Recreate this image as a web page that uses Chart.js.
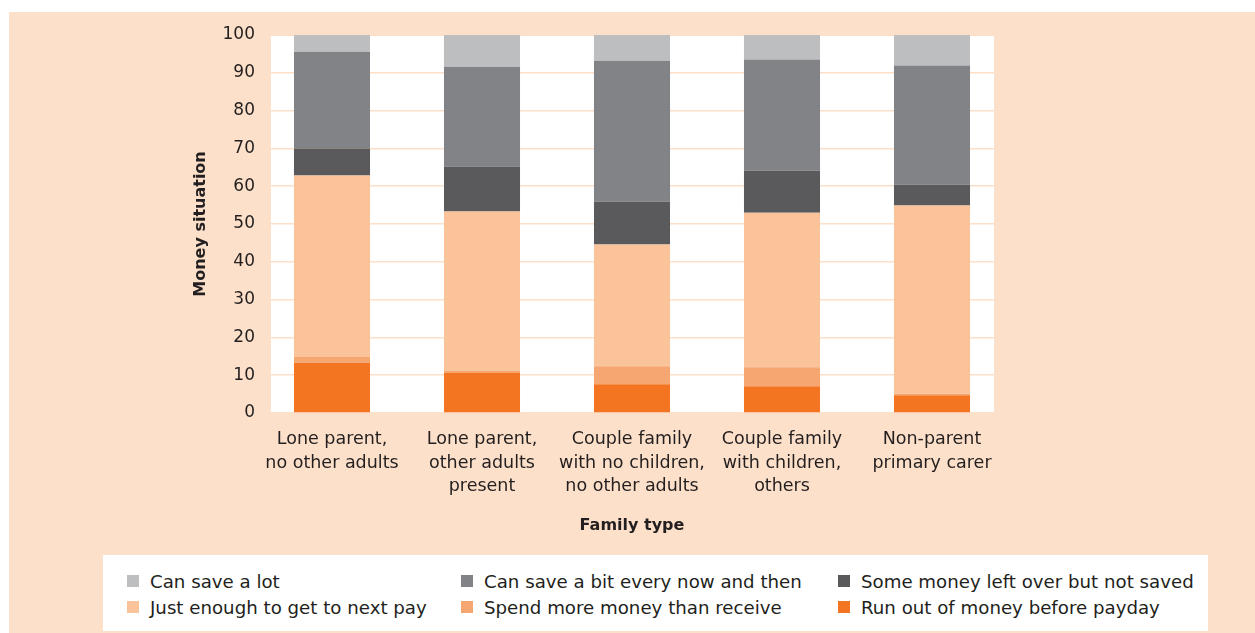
<!DOCTYPE html>
<html>
<head>
<meta charset="utf-8">
<script src="https://cdn.jsdelivr.net/npm/chart.js@4/dist/chart.umd.min.js"></script>
<style>
  body { margin: 0; background: #fff; width: 1255px; height: 633px; overflow: hidden; position: relative; font-family: "DejaVu Sans", sans-serif; }
  #panel { position: absolute; left: 9px; top: 12px; right: 0; bottom: 0; background: #fde0c9; }
  #chart { position: absolute; left: 0; top: 0; }
  #legend { position: absolute; left: 103px; top: 555px; width: 1105px; height: 76px; background: #fff;
            box-sizing: border-box; padding: 13px 0 0 24px; display: grid;
            grid-template-columns: 334px 377px auto; grid-auto-rows: 26px; }
  .item { display: flex; align-items: center; font-size: 18.2px; color: #231f20; white-space: nowrap; }
  .box { width: 12px; height: 12px; margin-right: 11px; flex: none; }
</style>
</head>
<body>
<div id="panel"></div>
<canvas id="chart" width="1255" height="550"></canvas>
<div id="legend"></div>
<script>
const categories = [
  ['Lone parent,', 'no other adults'],
  ['Lone parent,', 'other adults', 'present'],
  ['Couple family', 'with no children,', 'no other adults'],
  ['Couple family', 'with children,', 'others'],
  ['Non-parent', 'primary carer']
];
const yTicks = [0, 10, 20, 30, 40, 50, 60, 70, 80, 90, 100];

// stacked from the bottom up
const runOut    = [13.3, 10.6, 7.6, 7.1, 4.7];
const spendMore = [1.5, 0.5, 4.8, 5.0, 0.4];
const justEnough = [48.0, 42.2, 32.2, 40.9, 49.8];
const leftOver  = [7.2, 11.9, 11.3, 11.1, 5.5];
const saveBit   = [25.6, 26.4, 37.3, 29.4, 31.5];
const saveLot   = [4.4, 8.4, 6.8, 6.5, 8.1];

const peach = '#fde0c9';
const ink = '#231f20';

Chart.defaults.font.family = '"DejaVu Sans", sans-serif';
Chart.defaults.color = ink;

const plotBg = {
  id: 'plotBg',
  beforeDraw(chart) {
    const a = chart.chartArea, c = chart.ctx;
    c.save();
    c.fillStyle = '#fff';
    c.fillRect(a.left + 14, a.top + 1, a.right - a.left - 27, a.bottom - a.top - 1);
    c.restore();
  }
};

const chart = new Chart(document.getElementById('chart').getContext('2d'), {
  type: 'bar',
  data: {
    labels: categories,
    datasets: [
      { label: 'Run out of money before payday', data: runOut, backgroundColor: '#f37521' },
      { label: 'Spend more money than receive', data: spendMore, backgroundColor: '#f6a671' },
      { label: 'Just enough to get to next pay', data: justEnough, backgroundColor: '#fbc399' },
      { label: 'Some money left over but not saved', data: leftOver, backgroundColor: '#5a5a5c' },
      { label: 'Can save a bit every now and then', data: saveBit, backgroundColor: '#828386' },
      { label: 'Can save a lot', data: saveLot, backgroundColor: '#bdbec0' }
    ]
  },
  options: {
    responsive: false,
    animation: false,
    layout: { padding: { left: 0, right: 248, top: 35, bottom: 0 } },
    datasets: { bar: { categoryPercentage: 0.507, barPercentage: 1, borderWidth: 0 } },
    plugins: { legend: { display: false }, tooltip: { enabled: false } },
    scales: {
      x: {
        stacked: true,
        grid: { display: false },
        border: { display: false },
        ticks: { padding: 6, maxRotation: 0, autoSkip: false, font: { size: 17.5, lineHeight: 1.37 }, color: ink },
        title: { display: true, text: 'Family type', font: { size: 16, weight: 'bold' }, color: ink, padding: { top: 0, bottom: 15 } },
        afterFit(scale) { scale.height = 137; }
      },
      y: {
        stacked: true,
        min: 0, max: 100,
        afterBuildTicks(scale) { scale.ticks = yTicks.map(v => ({ value: v })); },
        grid: { color: peach, lineWidth: 1.5, drawTicks: false },
        border: { display: false },
        ticks: { padding: 2, font: { size: 17 }, color: ink },
        title: { display: true, text: 'Money situation', font: { size: 16, weight: 'bold' }, color: ink, padding: { top: 191, bottom: 0 } },
        afterFit(scale) { scale.width = 257; }
      }
    }
  },
  plugins: [plotBg]
});

// legend in the reference order (top of stack first)
const legend = document.getElementById('legend');
chart.data.datasets.slice().reverse().forEach(ds => {
  const item = document.createElement('div');
  item.className = 'item';
  const box = document.createElement('span');
  box.className = 'box';
  box.style.background = ds.backgroundColor;
  item.appendChild(box);
  item.appendChild(document.createTextNode(ds.label));
  legend.appendChild(item);
});
</script>
</body>
</html>
